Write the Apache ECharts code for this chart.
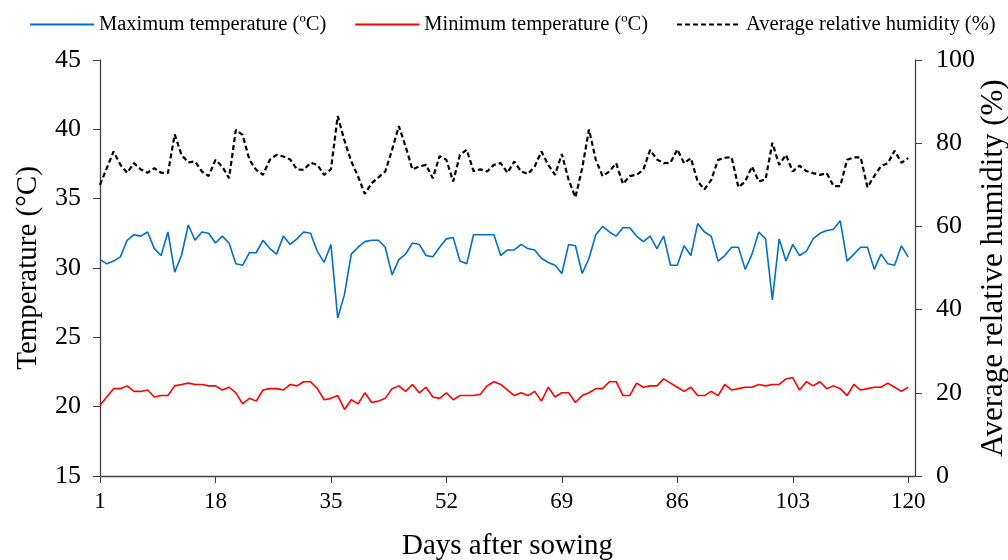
<!DOCTYPE html>
<html>
<head>
<meta charset="utf-8">
<script src="https://cdn.jsdelivr.net/npm/echarts@6/dist/echarts.min.js"></script>
<style>
  html, body { margin: 0; padding: 0; background: #fff; }
  #chart { width: 1008px; height: 560px; }
</style>
</head>
<body>
<div id="chart"></div>
<script>
// days after sowing (one spare slot after 120 so the last point sits inside the frame)
var days = [];
for (var d = 1; d <= 121; d++) { days.push(String(d)); }

// Maximum temperature (ºC)
var maxTemp = [
  30.6, 30.3, 30.5, 30.8, 32.0, 32.4, 32.3, 32.6, 31.4, 30.9,
  32.6, 29.7, 30.9, 33.1, 32.0, 32.6, 32.5, 31.8, 32.3, 31.8,
  30.3, 30.2, 31.1, 31.1, 32.0, 31.4, 31.0, 32.3, 31.7, 32.1,
  32.6, 32.5, 31.2, 30.4, 31.7, 26.4, 28.1, 31.0, 31.5, 31.9,
  32.0, 32.0, 31.5, 29.5, 30.6, 31.0, 31.8, 31.7, 30.9, 30.8,
  31.5, 32.1, 32.2, 30.5, 30.3, 32.4, 32.4, 32.4, 32.4, 30.9,
  31.3, 31.3, 31.7, 31.4, 31.3, 30.7, 30.4, 30.2, 29.6, 31.7,
  31.6, 29.6, 30.7, 32.4, 33.0, 32.6, 32.3, 32.9, 32.9, 32.3,
  31.9, 32.3, 31.4, 32.3, 30.2, 30.2, 31.6, 30.9, 33.2, 32.6,
  32.3, 30.5, 30.9, 31.5, 31.5, 29.9, 31.0, 32.6, 32.1, 27.7,
  32.1, 30.5, 31.7, 30.9, 31.2, 32.1, 32.5, 32.7, 32.8, 33.4,
  30.5, 31.0, 31.5, 31.5, 29.9, 31.0, 30.3, 30.2, 31.6, 30.8
];

// Minimum temperature (ºC)
var minTemp = [
  20.1, 20.7, 21.3, 21.3, 21.5, 21.1, 21.1, 21.2, 20.7, 20.8,
  20.8, 21.5, 21.6, 21.7, 21.6, 21.6, 21.5, 21.5, 21.2, 21.4,
  21.0, 20.2, 20.6, 20.4, 21.2, 21.3, 21.3, 21.2, 21.6, 21.5,
  21.8, 21.8, 21.3, 20.5, 20.6, 20.8, 19.8, 20.5, 20.2, 21.0,
  20.3, 20.4, 20.6, 21.3, 21.5, 21.1, 21.6, 21.0, 21.4, 20.7,
  20.6, 21.0, 20.5, 20.8, 20.8, 20.8, 20.9, 21.5, 21.8, 21.6,
  21.2, 20.8, 21.0, 20.8, 21.1, 20.4, 21.4, 20.7, 21.0, 21.0,
  20.3, 20.8, 21.0, 21.3, 21.3, 21.8, 21.8, 20.8, 20.8, 21.7,
  21.4, 21.5, 21.5, 22.0, 21.7, 21.4, 21.1, 21.4, 20.8, 20.8,
  21.1, 20.8, 21.6, 21.2, 21.3, 21.4, 21.4, 21.6, 21.5, 21.6,
  21.6, 22.0, 22.1, 21.2, 21.8, 21.5, 21.8, 21.3, 21.5, 21.3,
  20.8, 21.6, 21.2, 21.3, 21.4, 21.4, 21.7, 21.4, 21.1, 21.4
];

// Average relative humidity (%)
var humidity = [
  70.0, 74.0, 78.0, 74.8, 72.9, 75.2, 73.7, 72.9, 74.0, 72.9,
  72.8, 82.1, 77.2, 75.4, 75.6, 73.2, 72.1, 76.0, 74.4, 71.6,
  83.2, 82.0, 76.0, 73.6, 72.4, 76.0, 77.2, 76.8, 76.1, 73.7,
  73.6, 75.3, 74.8, 72.4, 73.7, 86.5, 80.6, 75.6, 72.0, 67.8,
  70.4, 71.8, 73.2, 78.4, 84.1, 79.2, 73.7, 74.4, 74.8, 71.6,
  76.9, 76.0, 70.8, 77.2, 78.4, 73.3, 73.7, 73.2, 74.8, 75.2,
  72.9, 75.6, 73.2, 72.6, 74.4, 78.0, 74.8, 72.4, 77.4, 71.2,
  67.0, 74.0, 83.3, 76.0, 72.1, 73.2, 75.2, 70.2, 72.1, 72.4,
  73.6, 78.4, 76.1, 75.2, 75.3, 78.5, 75.2, 76.4, 70.8, 68.9,
  71.2, 76.0, 76.5, 76.6, 69.4, 70.8, 74.4, 70.8, 71.3, 80.1,
  74.8, 77.2, 73.2, 74.6, 73.3, 72.8, 72.4, 72.8, 69.7, 69.7,
  76.0, 76.6, 76.6, 69.4, 72.1, 74.5, 75.2, 78.2, 75.3, 76.4
];

var seriesNames = ['Maximum temperature (ºC)', 'Minimum temperature (ºC)', 'Average relative humidity (%)'];

var FONT = '"Liberation Serif", "DejaVu Serif", serif';
var AXIS_COLOR = '#404040';

function showEvery17(index) {
    return index % 17 === 0 && index < 120;
}

var chart = echarts.init(document.getElementById('chart'), null, { renderer: 'canvas' });

var option = {
    backgroundColor: '#fff',
    animation: false,
    textStyle: { fontFamily: FONT, color: '#000' },
    legend: {
        top: 9,
        left: 24,
        itemWidth: 64,
        itemHeight: 14,
        itemGap: 28,
        itemStyle: { opacity: 0 },
        textStyle: { fontFamily: FONT, fontSize: 20.5, color: '#000' },
        data: seriesNames
    },
    grid: { left: 100, right: 93, top: 60, bottom: 84, outerBoundsMode: 'none' },
    xAxis: {
        type: 'category',
        data: days,
        boundaryGap: false,
        name: 'Days after sowing',
        nameLocation: 'middle',
        nameGap: 56,
        nameMoveOverlap: false,
        nameTextStyle: { fontFamily: FONT, fontSize: 29, color: '#000' },
        axisLine: { lineStyle: { color: AXIS_COLOR, width: 1.3 } },
        axisTick: { show: true, interval: showEvery17, length: 7, lineStyle: { color: AXIS_COLOR } },
        axisLabel: { interval: showEvery17, margin: 14, fontFamily: FONT, fontSize: 23, color: '#000' },
        splitLine: { show: false }
    },
    yAxis: [
        {
            type: 'value',
            min: 15,
            max: 45,
            interval: 5,
            position: 'left',
            name: 'Temperature (°C)',
            nameLocation: 'middle',
            nameRotate: 90,
            nameGap: 57,
            nameMoveOverlap: false,
            nameTextStyle: { fontFamily: FONT, fontSize: 29, color: '#000' },
            axisLine: { show: true, lineStyle: { color: AXIS_COLOR, width: 1.3 } },
            axisTick: { show: true, length: 7, lineStyle: { color: AXIS_COLOR } },
            axisLabel: { margin: 19, fontFamily: FONT, fontSize: 26, color: '#000' },
            splitLine: { show: false }
        },
        {
            type: 'value',
            min: 0,
            max: 100,
            interval: 20,
            position: 'right',
            name: 'Average relative humidity (%)',
            nameLocation: 'middle',
            nameRotate: 90,
            nameGap: 63,
            nameMoveOverlap: false,
            nameTextStyle: { fontFamily: FONT, fontSize: 31, color: '#000' },
            axisLine: { show: true, lineStyle: { color: AXIS_COLOR, width: 1.3 } },
            axisTick: { show: true, length: 7, lineStyle: { color: AXIS_COLOR } },
            axisLabel: { margin: 21, fontFamily: FONT, fontSize: 26, color: '#000' },
            splitLine: { show: false }
        }
    ],
    series: [
        {
            name: seriesNames[0],
            type: 'line',
            yAxisIndex: 0,
            data: maxTemp,
            showSymbol: false,
            symbol: 'none',
            color: '#0070C0',
            lineStyle: { color: '#0070C0', width: 1.6 }
        },
        {
            name: seriesNames[1],
            type: 'line',
            yAxisIndex: 0,
            data: minTemp,
            showSymbol: false,
            symbol: 'none',
            color: '#FF0000',
            lineStyle: { color: '#FF0000', width: 1.6 }
        },
        {
            name: seriesNames[2],
            type: 'line',
            yAxisIndex: 1,
            data: humidity,
            showSymbol: false,
            symbol: 'none',
            color: '#000',
            lineStyle: { color: '#000', width: 2.2, type: [5, 3] }
        }
    ]
};

chart.setOption(option);
</script>
</body>
</html>
